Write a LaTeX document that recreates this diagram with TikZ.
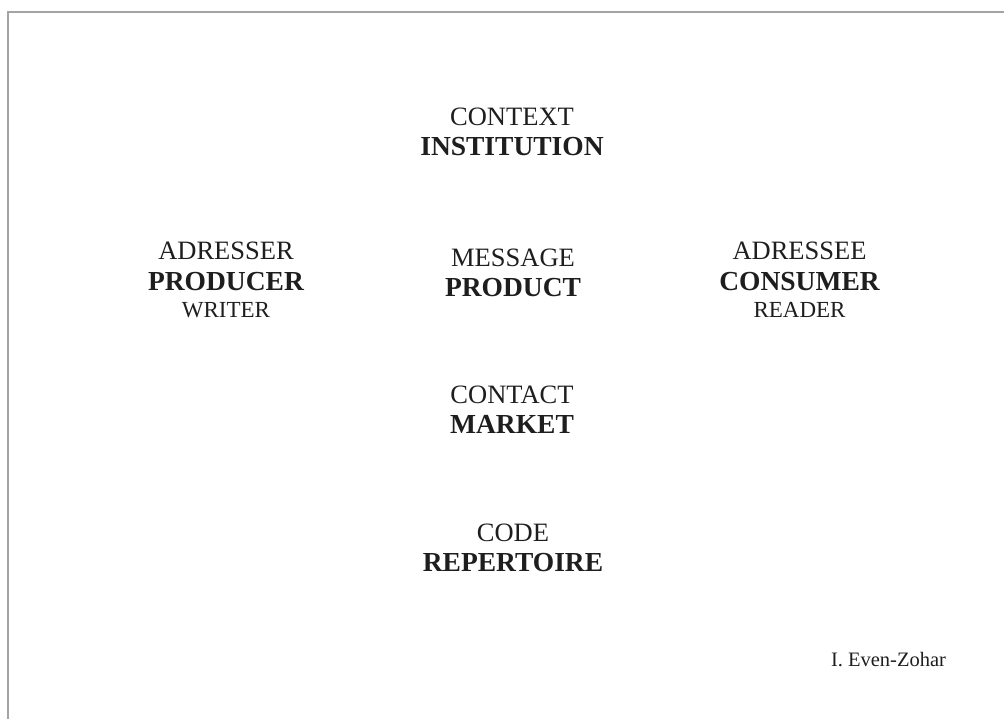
\documentclass[tikz,border=0pt]{standalone}
\usepackage{fontspec}
\setmainfont{Liberation Serif}
\definecolor{framegray}{HTML}{A4A4A4}
\definecolor{ink}{HTML}{1E1E1E}
\begin{document}
\begin{tikzpicture}[x=1pt,y=-1pt,
  lbl/.style={anchor=base,inner sep=0pt,text=ink,font=\fontsize{26.5}{30}\selectfont},
  bold/.style={anchor=base,inner sep=0pt,text=ink,font=\fontsize{27.5}{30}\selectfont\bfseries},
  small/.style={anchor=base,inner sep=0pt,text=ink,font=\fontsize{23}{26}\selectfont},
  sig/.style={anchor=base,inner sep=0pt,text=ink,font=\fontsize{20.5}{24}\selectfont},
  frameline/.style={draw=framegray,line width=2pt}]
\useasboundingbox (0,0) rectangle (1004,719);
\coordinate (fa) at (8,719);
\coordinate (fb) at (8,12);
\coordinate (fc) at (1004,12);
\draw[frameline] (fa) -- (fb) -- (fc);

\node[lbl]  (context)     at (512,125.5) {CONTEXT};
\node[bold] (institution) at (512,155.5) {INSTITUTION};

\node[lbl]  (adresser) at (226,260) {ADRESSER};
\node[bold] (producer) at (226,290.5) {PRODUCER};
\node[small](writer)   at (226,318) {WRITER};

\node[lbl]  (message) at (513,267) {MESSAGE};
\node[bold] (product) at (513,297) {PRODUCT};

\node[lbl]  (adressee) at (799.5,260) {ADRESSEE};
\node[bold] (consumer) at (799.5,291) {CONSUMER};
\node[small](reader)   at (799.5,317.5) {READER};

\node[lbl]  (contact) at (512,403) {CONTACT};
\node[bold] (market)  at (512,433.5) {MARKET};

\node[lbl]  (code)       at (513,541) {CODE};
\node[bold] (repertoire) at (513,571.5) {REPERTOIRE};

\node[sig] (author) at (888.5,666) {I. Even-Zohar};
\end{tikzpicture}
\end{document}
